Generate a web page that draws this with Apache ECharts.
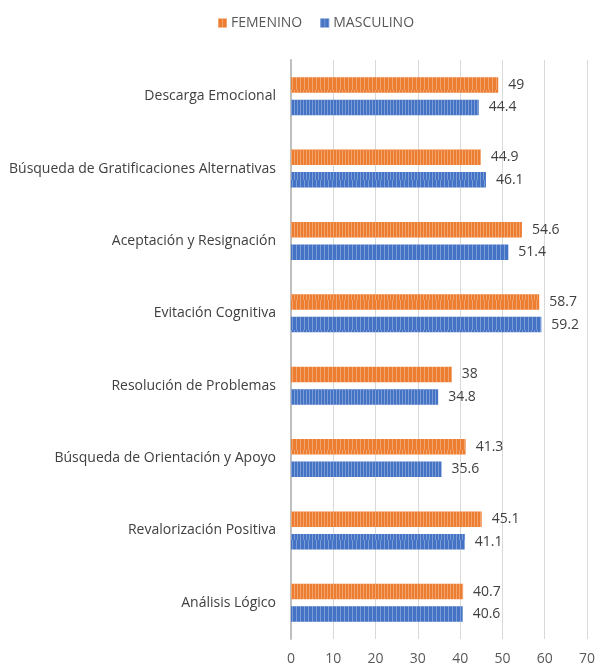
<!DOCTYPE html>
<html><head><meta charset="utf-8">
<script src="https://cdn.jsdelivr.net/npm/echarts@6/dist/echarts.min.js"></script>
<style>html,body{margin:0;padding:0;background:#fff}#c{width:598px;height:666px}</style>
</head><body><div id="c"></div>
<script>
const categories = ['Descarga Emocional','Búsqueda de Gratificaciones Alternativas','Aceptación y Resignación','Evitación Cognitiva','Resolución de Problemas','Búsqueda de Orientación y Apoyo','Revalorización Positiva','Análisis Lógico'];
const femenino = [49, 44.9, 54.6, 58.7, 38, 41.3, 45.1, 40.7];
const masculino = [44.4, 46.1, 51.4, 59.2, 34.8, 35.6, 41.1, 40.6];
const xTicks = [0,10,20,30,40,50,60,70];

const FONT = 'Open Sans';
const chart = echarts.init(document.getElementById('c'));
const decal = {symbol:'rect', symbolSize:1, dashArrayX:[[1,2],[1,3]], dashArrayY:[30,0], color:'rgba(255,255,255,0.3)', rotation:0};
const lbl = {show:true, position:'right', distance:10, color:'#404040', fontFamily:FONT, fontSize:14};
chart.setOption({
  animation:false,
  textStyle:{fontFamily:FONT},
  legend:{top:11, left:213, itemWidth:9, itemHeight:9, itemGap:18, icon:'rect',
    data:['FEMENINO','MASCULINO'], textStyle:{color:'#595959', fontSize:14, fontFamily:FONT, padding:[0,0,0,-1]}},
  grid:{left:291, right:8, top:60, bottom:17, containLabel:false},
  xAxis:{type:'value', min:0, max:70, interval:10,
    axisLine:{show:false}, axisTick:{show:false},
    splitLine:{lineStyle:{color:'#d9d9d9', width:1}},
    axisLabel:{color:'#595959', fontSize:14, margin:13, fontFamily:FONT,
      formatter:v=>xTicks.includes(v)?String(v):''}},
  yAxis:{type:'category', inverse:true, data:categories,
    axisLine:{lineStyle:{color:'#bfbfbf', width:2}}, axisTick:{show:false},
    axisLabel:{color:'#404040', fontSize:14, margin:15, fontFamily:FONT}},
  series:[
    {name:'FEMENINO', type:'bar', data:femenino, barWidth:15.5, barGap:'45%',
     itemStyle:{color:'#ED7D31', decal:decal}, label:lbl},
    {name:'MASCULINO', type:'bar', data:masculino, barWidth:15.5, barGap:'45%',
     itemStyle:{color:'#4472C4', decal:decal}, label:lbl}
  ],
  aria:{enabled:false}
});
</script></body></html>
